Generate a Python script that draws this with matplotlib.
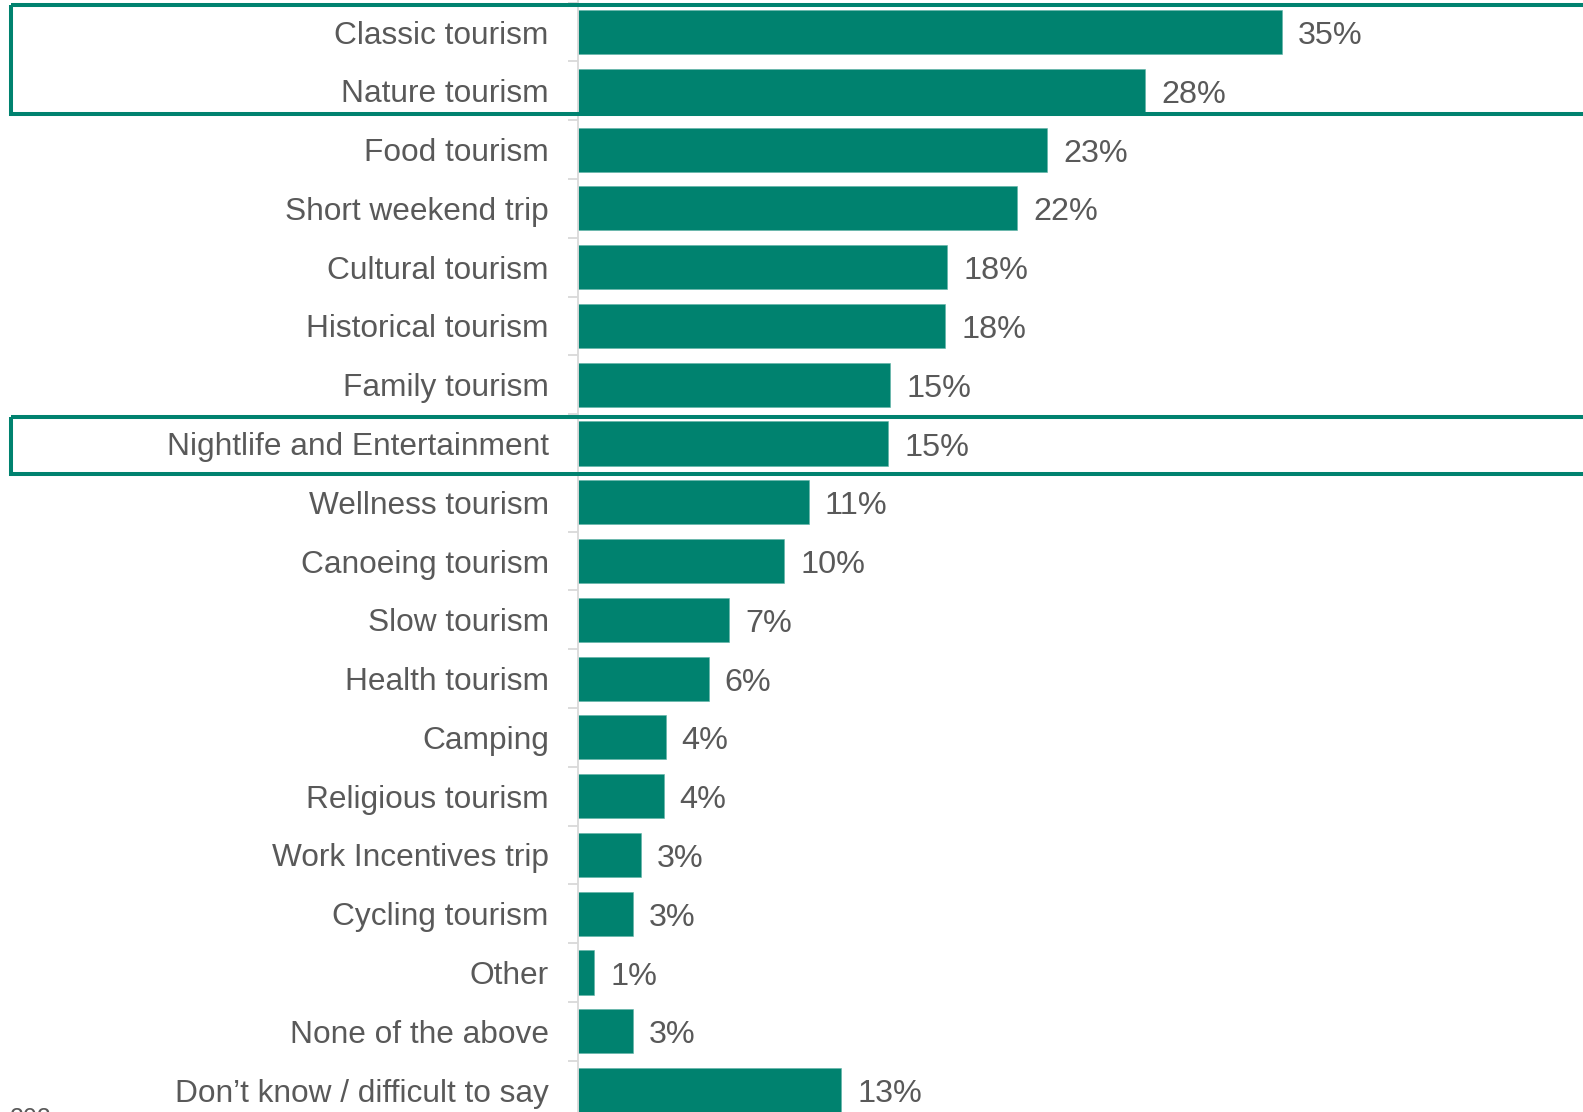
import matplotlib
matplotlib.use("Agg")
import matplotlib.pyplot as plt
import matplotlib.transforms as mtransforms
from matplotlib.patches import Rectangle

plt.rcParams["font.family"] = ["Liberation Sans", "DejaVu Sans"]

# Survey data: share of respondents by preferred type of tourism
categories = [
    "Classic tourism",
    "Nature tourism",
    "Food tourism",
    "Short weekend trip",
    "Cultural tourism",
    "Historical tourism",
    "Family tourism",
    "Nightlife and Entertainment",
    "Wellness tourism",
    "Canoeing tourism",
    "Slow tourism",
    "Health tourism",
    "Camping",
    "Religious tourism",
    "Work Incentives trip",
    "Cycling tourism",
    "Other",
    "None of the above",
    "Don\u2019t know / difficult to say",
]
shares = [34.52, 27.8, 23.0, 21.52, 18.1, 18.0, 15.3, 15.2, 11.3, 10.1,
          7.4, 6.4, 4.3, 4.2, 3.1, 2.7, 0.8, 2.7, 12.9]

# Rows highlighted with a frame (first/last row index, inclusive)
highlight_rows = [(0, 1), (7, 7)]
footnote = "202"

TEAL = "#00826F"
TEXT = "#595959"
GRID = "#D9D9D9"

W, H, DPI = 1583, 1112, 100
fig = plt.figure(figsize=(W / DPI, H / DPI), dpi=DPI)
ax = fig.add_axes([578 / W, 0.0, 1 - 578 / W, 1.0])

pos = list(range(len(categories)))
ax.barh(pos, shares, height=0.75, color=TEAL, edgecolor="#5fb3a6", linewidth=0.4)

ax.set_yticks(pos)
ax.set_yticklabels(categories)
ax.set_yticks([p - 0.5 for p in pos] + [len(pos) - 0.5], minor=True)
ax.tick_params(axis="y", which="major", length=0, pad=21, labelsize=22.8,
               labelcolor=TEXT)
ax.tick_params(axis="y", which="minor", length=7.2, width=1.3, color=GRID)
ax.set_xticks([])

# Fixed scales (set after the ticks so the view is not widened)
px_per_unit = 20.4
ax.set_xlim(0, (W - 578) / px_per_unit)
row_px = 58.78
first_px = 32.0
ax.set_ylim((H - first_px) / row_px, -first_px / row_px)

for y, v in zip(pos, shares):
    ax.text(v + 16 / px_per_unit, y + 0.07, f"{v:.0f}%", va="center", ha="left",
            fontsize=23.3, color=TEXT)

for side in ("top", "right", "bottom"):
    ax.spines[side].set_visible(False)
ax.spines["left"].set_color(GRID)
ax.spines["left"].set_linewidth(1.3)

# Frames around highlighted rows, spanning from the label area to the right edge
trans = mtransforms.blended_transform_factory(fig.transFigure, ax.transData)
frame_bounds = {(0, 1): (5, 114), (7, 7): (416.5, 474)}
for rows in highlight_rows:
    top_px, bot_px = frame_bounds[rows]
    y0 = (top_px - first_px) / row_px
    y1 = (bot_px - first_px) / row_px
    rect = Rectangle((11.3 / W, y0), 1.05, y1 - y0, transform=trans,
                     fill=False, edgecolor=TEAL, linewidth=2.9, clip_on=False)
    fig.add_artist(rect)

fig.text(10 / W, 1 - 1106.5 / H, footnote, va="top", ha="left",
         fontsize=18, color=TEXT)

fig.savefig("out.png", dpi=DPI)
